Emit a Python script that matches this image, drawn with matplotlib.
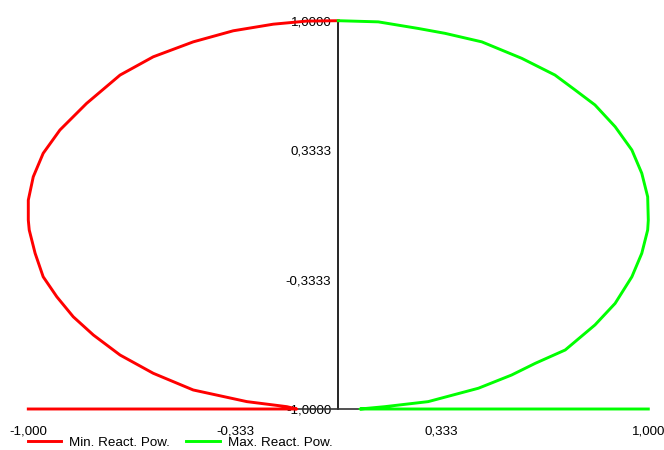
import matplotlib
matplotlib.use("Agg")
import matplotlib.pyplot as plt

# Capability curve: reactive power limits (x) against active power (y), per unit
min_q = [-1.000, -0.134, -0.166, -0.295, -0.468, -0.597, -0.704, -0.790, -0.855,
         -0.908, -0.952, -0.978, -0.997, -1.000, -1.000, -0.984, -0.952, -0.898,
         -0.812, -0.704, -0.597, -0.468, -0.339, -0.210, -0.102, 0.000]
min_p = [-1.000, -1.000, -0.988, -0.962, -0.902, -0.816, -0.722, -0.619, -0.525,
         -0.422, -0.319, -0.198, -0.078, -0.027, 0.076, 0.196, 0.317, 0.437,
         0.574, 0.720, 0.814, 0.891, 0.948, 0.982, 0.998, 1.000]

max_q = [1.000, 0.070, 0.150, 0.290, 0.452, 0.559, 0.635, 0.732, 0.828, 0.893,
         0.947, 0.979, 0.998, 1.000, 0.998, 0.979, 0.947, 0.893, 0.828, 0.764,
         0.699, 0.592, 0.463, 0.344, 0.258, 0.129, 0.000]
max_p = [-1.000, -1.000, -0.988, -0.962, -0.893, -0.825, -0.765, -0.696, -0.567,
         -0.456, -0.319, -0.198, -0.078, -0.027, 0.093, 0.214, 0.334, 0.454,
         0.566, 0.643, 0.720, 0.806, 0.891, 0.935, 0.960, 0.994, 1.000]

x_ticks = [-1.0, -1/3, 1/3, 1.0]
x_tick_labels = ["-1,000", "-0,333", "0,333", "1,000"]
y_ticks = [-1.0, -1/3, 1/3, 1.0]
y_tick_labels = ["-1,0000", "-0,3333", "0,3333", "1,0000"]

series_names = ["Min. React. Pow.", "Max. React. Pow."]

plt.rcParams["font.family"] = ["Liberation Sans", "DejaVu Sans"]

W, H = 664, 450
fig = plt.figure(figsize=(W / 100, H / 100), dpi=100)
left, right = 28.3, 648.3
top, bottom = 20.7, 409.0
ax = fig.add_axes([left / W, (H - bottom) / H, (right - left) / W, (bottom - top) / H])

ax.set_xlim(-1, 1)
ax.set_ylim(-1, 1)

l1, = ax.plot(min_q, min_p, color="#ff0000", lw=2.1, clip_on=False, zorder=3,
              solid_joinstyle="round")
l2, = ax.plot(max_q, max_p, color="#00ff00", lw=2.1, clip_on=False, zorder=3,
              solid_joinstyle="round")

for s in ("top", "right"):
    ax.spines[s].set_visible(False)
ax.spines["left"].set_position(("data", 0))
ax.spines["left"].set_color("#000000")
ax.spines["left"].set_linewidth(1.2)
ax.spines["bottom"].set_color("#333333")
ax.spines["bottom"].set_linewidth(1.2)
ax.spines["left"].set_zorder(2)
ax.spines["bottom"].set_zorder(2)

ax.set_xticks(x_ticks)
ax.set_xticklabels(x_tick_labels)
ax.set_yticks(y_ticks)
ax.set_yticklabels(y_tick_labels)
ax.tick_params(axis="x", length=0, pad=12, labelsize=9.6, colors="#000000")
ax.tick_params(axis="y", length=0, pad=5, labelsize=9.6, colors="#000000")
for t in ax.get_yticklabels():
    t.set_zorder(5)

fig.legend([l1, l2], series_names, loc="lower left",
           bbox_to_anchor=(28 / W, 1 / H), ncol=2, frameon=False,
           fontsize=9.6, handlelength=2.5, handletextpad=0.6,
           columnspacing=1.2, borderpad=0, borderaxespad=0)

fig.savefig("out.png", dpi=100)
